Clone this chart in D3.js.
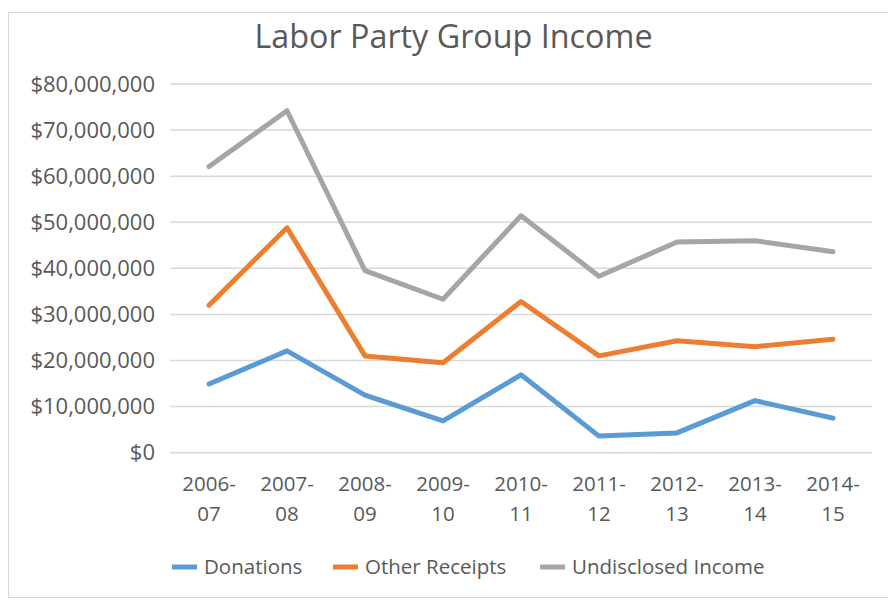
<!DOCTYPE html>
<html><head><meta charset="utf-8">
<script src="https://cdn.jsdelivr.net/npm/d3@7"></script>
<style>body{margin:0;background:#fff;} text{font-family:"Open Sans",sans-serif;fill:#595959;}</style>
</head><body>
<svg id="chart" width="888" height="600"></svg>
<script>
const categories = ["2006-07","2007-08","2008-09","2009-10","2010-11","2011-12","2012-13","2013-14","2014-15"];
const donations = [14900000,22100000,12500000,6900000,16900000,3600000,4300000,11300000,7500000];
const otherReceipts = [32000000,48800000,21000000,19500000,32800000,21000000,24300000,23000000,24600000];
const undisclosedIncome = [62100000,74200000,39500000,33300000,51400000,38300000,45700000,46000000,43600000];
const seriesNames = ["Donations","Other Receipts","Undisclosed Income"];
const seriesColors = ["#5B9BD5","#ED7D31","#A5A5A5"];
const yTicks = [0,10000000,20000000,30000000,40000000,50000000,60000000,70000000,80000000];
const title = "Labor Party Group Income";

const svg = d3.select("#chart");
svg.append("rect").attr("x",8.5).attr("y",12.5).attr("width",900).attr("height",585)
  .attr("fill","#fff").attr("stroke","#D9D9D9").attr("stroke-width",1);

const pLeft=170, pRight=872, pTop=84, pBottom=452.7;
const x = d3.scaleBand().domain(categories).range([pLeft,pRight]);
const y = d3.scaleLinear().domain([0,80000000]).range([pBottom,pTop]);

svg.append("text").attr("x",453.5).attr("y",48).attr("text-anchor","middle")
  .style("font-size","32.3px").text(title);

// grid
svg.append("g").selectAll("line").data(yTicks).join("line")
  .attr("x1",pLeft).attr("x2",pRight).attr("y1",d=>y(d)).attr("y2",d=>y(d))
  .attr("stroke","#D9D9D9").attr("stroke-width",1.5);

const fmt = d => "$" + d3.format(",")(d);
svg.append("g").selectAll("text").data(yTicks).join("text")
  .attr("x",155).attr("y",d=>y(d)).attr("dy","0.35em").attr("text-anchor","end")
  .style("font-size","22px").text(fmt);

// x labels
const xl = svg.append("g").selectAll("text").data(categories).join("text")
  .attr("text-anchor","middle").style("font-size","20.5px");
xl.append("tspan").attr("x",d=>x(d)+x.bandwidth()/2).attr("y",491).text(d=>d.split("-")[0]+"-");
xl.append("tspan").attr("x",d=>x(d)+x.bandwidth()/2).attr("y",521).text(d=>d.split("-")[1]);

const data = [donations, otherReceipts, undisclosedIncome];
const line = d3.line().x((d,i)=>x(categories[i])+x.bandwidth()/2).y(d=>y(d));
svg.append("g").selectAll("path").data(data).join("path")
  .attr("d",line).attr("fill","none")
  .attr("stroke",(d,i)=>seriesColors[i]).attr("stroke-width",5)
  .attr("stroke-linejoin","round").attr("stroke-linecap","round");

// legend
const legendX = [172,333,540];
const lg = svg.append("g").selectAll("g").data(seriesNames).join("g")
  .attr("transform",(d,i)=>`translate(${legendX[i]},567)`);
lg.append("line").attr("x1",0).attr("x2",25).attr("y1",0).attr("y2",0)
  .attr("stroke",(d,i)=>seriesColors[i]).attr("stroke-width",5);
lg.append("text").attr("x",32).attr("dy","0.35em").style("font-size","20.5px").text(d=>d);
</script>
</body></html>
